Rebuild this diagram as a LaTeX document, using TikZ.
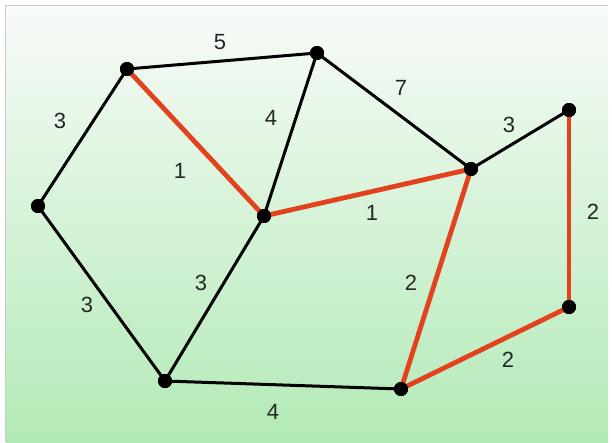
\documentclass[tikz,border=0pt]{standalone}
\usepackage{fontspec}
\setmainfont{Liberation Sans}
\begin{document}
\definecolor{bgtop}{HTML}{F8FBF8}
\definecolor{bgmid}{HTML}{DDF4DE}
\definecolor{bgbot}{HTML}{B2EAB6}
\definecolor{mstred}{HTML}{E2421E}
\definecolor{framegray}{HTML}{C8CCC8}
\begin{tikzpicture}[x=1pt,y=-1pt,
  vtx/.style={circle,fill=black,inner sep=0pt,minimum size=14pt},
  plain/.style={line width=3pt,black},
  mst/.style={line width=4.8pt,mstred},
  wlabel/.style={font=\fontsize{22}{22}\selectfont,text=black!85}]
\useasboundingbox (0,0) rectangle (612,442);
\fill[white] (0,0) rectangle (612,442);
\shade[top color=bgtop,middle color=bgmid,bottom color=bgbot] (6,6) rectangle (608,442);
\draw[framegray,line width=1.5pt] (5.5,442) -- (5.5,5.5) -- (608,5.5);
% vertices
\node[vtx] (A) at (127,69) {};
\node[vtx] (B) at (317,53) {};
\node[vtx] (C) at (38,206) {};
\node[vtx] (D) at (264,216) {};
\node[vtx] (E) at (471,169) {};
\node[vtx] (F) at (569,110) {};
\node[vtx] (G) at (569,307) {};
\node[vtx] (H) at (165,381) {};
\node[vtx] (I) at (401,389) {};
% edges
\draw[plain] (A.center) -- (B.center);
\draw[plain] (A.center) -- (C.center);
\draw[plain] (B.center) -- (D.center);
\draw[plain] (B.center) -- (E.center);
\draw[plain] (E.center) -- (F.center);
\draw[plain] (C.center) -- (H.center);
\draw[plain] (D.center) -- (H.center);
\draw[plain] (H.center) -- (I.center);
\draw[mst] (A.center) -- (D.center);
\draw[mst] (D.center) -- (E.center);
\draw[mst] (F.center) -- (G.center);
\draw[mst] (E.center) -- (I.center);
\draw[mst] (I.center) -- (G.center);
% redraw vertices on top
\foreach \n in {A,B,C,D,E,F,G,H,I} \fill (\n.center) circle (7pt);
% labels
\node[wlabel] (lAB) at (220,42) {5};
\node[wlabel] (lAC) at (60,121) {3};
\node[wlabel] (lAD) at (180,171) {1};
\node[wlabel] (lBD) at (271,118) {4};
\node[wlabel] (lBE) at (401,88) {7};
\node[wlabel] (lDE) at (372,213) {1};
\node[wlabel] (lEF) at (509,125) {3};
\node[wlabel] (lFG) at (593,212) {2};
\node[wlabel] (lCH) at (87,305) {3};
\node[wlabel] (lDH) at (201,283) {3};
\node[wlabel] (lHI) at (273,412) {4};
\node[wlabel] (lEI) at (411,283) {2};
\node[wlabel] (lIG) at (508,360) {2};
\end{tikzpicture}
\end{document}
